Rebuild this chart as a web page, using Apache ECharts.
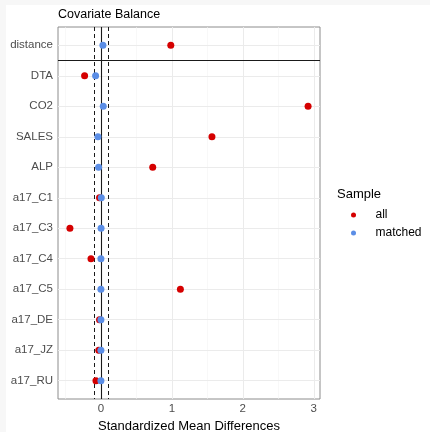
<!DOCTYPE html>
<html>
<head>
<meta charset="utf-8">
<script src="https://cdn.jsdelivr.net/npm/echarts@6/dist/echarts.min.js"></script>
<style>
html,body{margin:0;padding:0;background:#fff;}
#chart{width:430px;height:432px;}
</style>
</head>
<body>
<div id="chart"></div>
<script>
const categories = ['distance','DTA','CO2','SALES','ALP','a17_C1','a17_C3','a17_C4','a17_C5','a17_DE','a17_JZ','a17_RU'];
const allValues = [0.985, -0.23, 2.92, 1.565, 0.73, -0.02, -0.437, -0.14, 1.12, -0.02, -0.03, -0.07];
const matchedValues = [0.028, -0.075, 0.033, -0.042, -0.033, 0.005, 0.002, 0.0, 0.0, 0.0, 0.0, 0.0];
const xTicks = [0, 1, 2, 3];
const xMinor = [-0.5, 0.5, 1.5, 2.5];
const thresholds = [-0.1, 0.1];
const seriesNames = ['all', 'matched'];
const colors = ['#d50000', '#5b8ee6'];

const FONT = 'Liberation Sans, Arial, sans-serif';
const chart = echarts.init(document.getElementById('chart'), null, {renderer: 'canvas'});

const catIdx = categories.map((c, i) => i);
const gridMarks = [];
xMinor.forEach(v => gridMarks.push({xAxis: v, lineStyle: {color: '#f3f3f3', width: 0.6, type: 'solid'}}));
xTicks.forEach(v => gridMarks.push({xAxis: v, lineStyle: {color: '#ebebeb', width: 1, type: 'solid'}}));
catIdx.forEach(v => gridMarks.push({yAxis: v, lineStyle: {color: '#ebebeb', width: 1, type: 'solid'}}));

const refMarks = [
  {xAxis: 0, lineStyle: {color: '#1a1a1a', width: 1.1, type: 'solid'}},
  {xAxis: thresholds[0], lineStyle: {color: '#1a1a1a', width: 1, type: [4, 3]}},
  {xAxis: thresholds[1], lineStyle: {color: '#1a1a1a', width: 1, type: [4, 3]}},
  {yAxis: 0.5, lineStyle: {color: '#1a1a1a', width: 1.1, type: 'solid'}}
];

const option = {
  backgroundColor: '#ffffff',
  animation: false,
  textStyle: {fontFamily: FONT},
  title: {
    text: 'Covariate Balance',
    left: 58, top: 8, padding: 0,
    textStyle: {fontFamily: FONT, fontSize: 12.5, fontWeight: 'normal', color: '#000'}
  },
  graphic: [
    {type: 'rect', shape: {x: 0, y: 0, width: 430, height: 5}, style: {fill: '#f7f7f7'}, silent: true},
    {type: 'rect', shape: {x: 0, y: 0, width: 6, height: 432}, style: {fill: '#f7f7f7'}, silent: true},
    {type: 'text', left: 337, top: 188, style: {text: 'Sample', font: '13px ' + FONT, fill: '#000'}}
  ],
  legend: {
    data: seriesNames,
    orient: 'vertical',
    left: 346, top: 203,
    icon: 'circle',
    itemWidth: 34, itemHeight: 5,
    itemGap: 4,
    textStyle: {fontFamily: FONT, fontSize: 12, color: '#000', lineHeight: 14, padding: [0, 0, 0, 0]},
    selectedMode: false
  },
  grid: {
    left: 58, right: 110, top: 27, bottom: 33,
    outerBoundsMode: 'none',
    containLabel: false,
    show: true, borderColor: '#8c8c8c', borderWidth: 1, backgroundColor: 'transparent'
  },
  xAxis: {
    type: 'value',
    min: -0.605, max: 3.088,
    name: 'Standardized Mean Differences',
    nameLocation: 'middle', nameGap: 21,
    nameTextStyle: {fontFamily: FONT, fontSize: 13, color: '#000'},
    axisLine: {show: false},
    axisTick: {show: true, customValues: xTicks, length: 3, lineStyle: {color: '#777'}},
    axisLabel: {customValues: xTicks, margin: 4, fontFamily: FONT, fontSize: 11.5, color: '#4d4d4d'},
    splitLine: {show: false}
  },
  yAxis: {
    type: 'value',
    inverse: true,
    min: -0.6, max: 11.6,
    axisLine: {show: false},
    axisTick: {show: true, customValues: catIdx, length: 3, lineStyle: {color: '#777'}},
    axisLabel: {
      customValues: catIdx, margin: 5,
      fontFamily: FONT, fontSize: 11.5, color: '#4d4d4d',
      formatter: v => categories[Math.round(v)]
    },
    splitLine: {show: false}
  },
  series: [
    {
      name: 'grid', type: 'line', data: [], z: 1, silent: true,
      markLine: {z: 1, silent: true, symbol: ['none', 'none'], label: {show: false}, animation: false, data: gridMarks}
    },
    {
      name: 'ref', type: 'line', data: [], z: 2, silent: true,
      markLine: {z: 2, silent: true, symbol: ['none', 'none'], label: {show: false}, animation: false, data: refMarks}
    },
    {
      name: seriesNames[0], type: 'scatter', z: 3,
      symbolSize: 7,
      itemStyle: {color: colors[0], opacity: 1},
      data: allValues.map((v, i) => [v, i])
    },
    {
      name: seriesNames[1], type: 'scatter', z: 4,
      symbolSize: 7,
      itemStyle: {color: colors[1], opacity: 1},
      data: matchedValues.map((v, i) => [v, i])
    }
  ]
};
chart.setOption(option);
</script>
</body>
</html>
